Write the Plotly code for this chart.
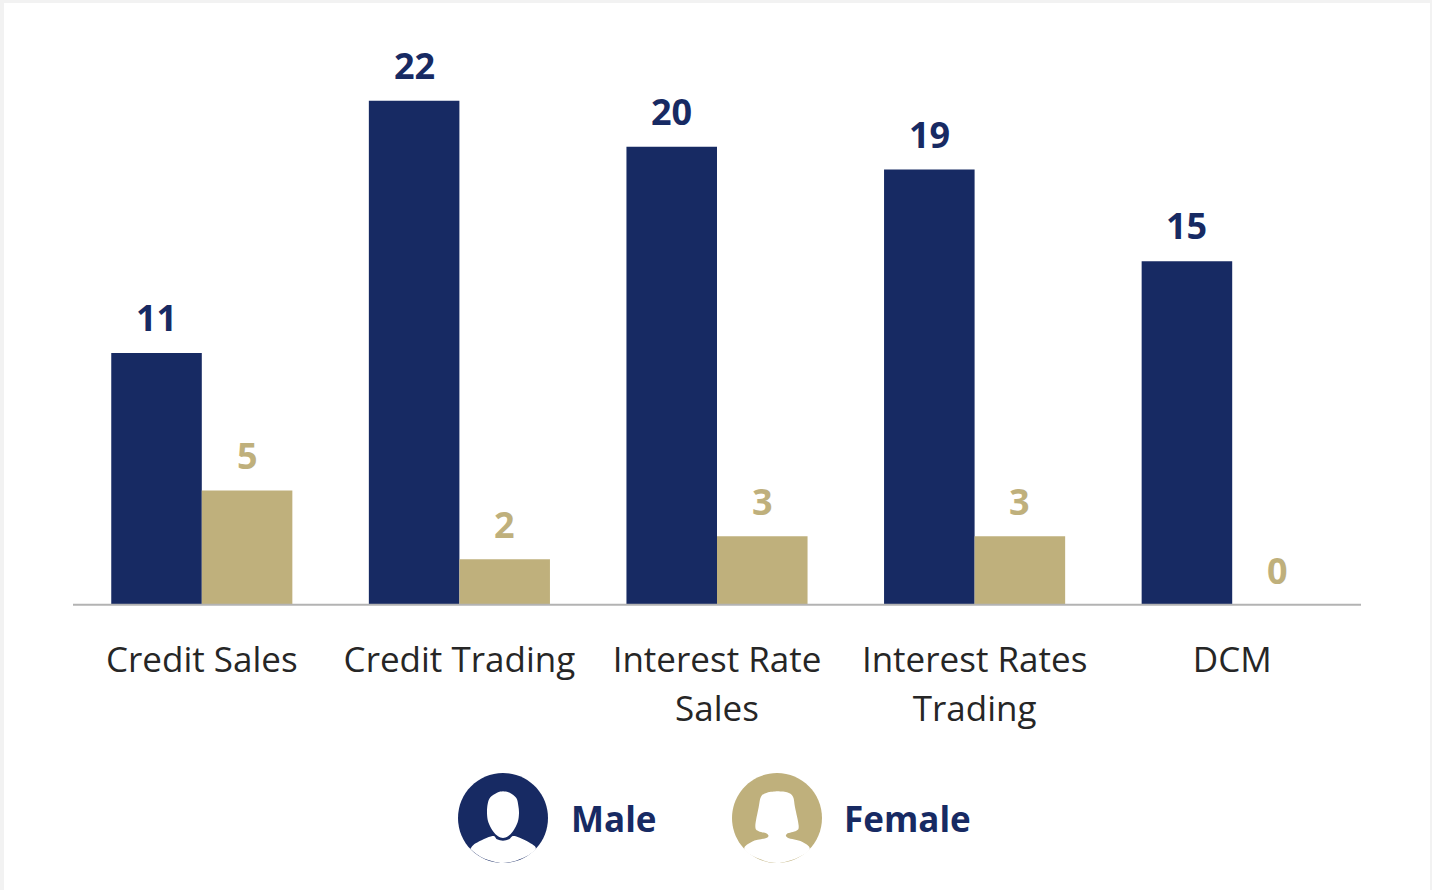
import plotly.graph_objects as go

categories = ["Credit Sales", "Credit Trading", "Interest Rate Sales", "Interest Rates Trading", "DCM"]
tick_lines = [["Credit Sales"], ["Credit Trading"], ["Interest Rate", "Sales"], ["Interest Rates", "Trading"], ["DCM"]]
male = [11, 22, 20, 19, 15]
female = [5, 2, 3, 3, 0]
NAVY = "#172a63"
GOLD = "#bfb07c"
W, H = 1432, 890
L, R, T, B = 73, 71, 55, 285
PW, PH = W - L - R, H - T - B


def px(x):
    return (x - L) / PW


def py(y):
    return (H - B - y) / PH


def path_from(points, cx, cy, ox, oy):
    """Smooth closed outline through points given in 3x crop pixels, returned in paper units."""
    pts = [(ox + (x - cx) / 3, oy + (y - cy) / 3) for x, y in points]
    s = f"M{px(pts[0][0]):.5f},{py(pts[0][1]):.5f}"
    n = len(pts)
    for i in range(n - 1):
        p0, p1, p2, p3 = pts[max(i - 1, 0)], pts[i], pts[i + 1], pts[min(i + 2, n - 1)]
        c1 = (p1[0] + (p2[0] - p0[0]) / 6, p1[1] + (p2[1] - p0[1]) / 6)
        c2 = (p2[0] - (p3[0] - p1[0]) / 6, p2[1] - (p3[1] - p1[1]) / 6)
        s += (f" C{px(c1[0]):.5f},{py(c1[1]):.5f} {px(c2[0]):.5f},{py(c2[1]):.5f}"
              f" {px(p2[0]):.5f},{py(p2[1]):.5f}")
    return s + " Z"


def circle_path(cx, cy, r):
    k = 0.5523 * r
    segs = [((cx - r, cy - k), (cx - k, cy - r), (cx, cy - r)),
            ((cx + k, cy - r), (cx + r, cy - k), (cx + r, cy)),
            ((cx + r, cy + k), (cx + k, cy + r), (cx, cy + r)),
            ((cx - k, cy + r), (cx - r, cy + k), (cx - r, cy))]
    s = f"M{px(cx - r):.5f},{py(cy):.5f}"
    for a, b, c in segs:
        s += f" C{px(a[0]):.5f},{py(a[1]):.5f} {px(b[0]):.5f},{py(b[1]):.5f} {px(c[0]):.5f},{py(c[1]):.5f}"
    return s + " Z"


male_head = [(190, 92), (210, 96), (230, 112), (236, 135), (238, 158), (234, 185), (220, 212), (205, 227),
             (190, 232), (175, 227), (160, 212), (146, 185), (142, 158), (144, 130), (152, 110), (172, 96), (190, 92)]
male_body = [(92, 265), (108, 248), (158, 226), (172, 236), (190, 240), (208, 236), (224, 226), (270, 246), (288, 265),
             (250, 292), (190, 307), (130, 292), (92, 265)]
female_shape = [(1010, 92), (1040, 95), (1058, 108), (1064, 140), (1075, 195), (1068, 210), (1040, 219), (1042, 231),
                (1085, 243), (1108, 265), (1070, 292), (1010, 307), (950, 292), (912, 265), (935, 243), (980, 231),
                (980, 219), (955, 212), (945, 197), (955, 140), (962, 108), (980, 96), (1010, 92)]


def shape(path, colour):
    return dict(type="path", xref="paper", yref="paper", path=path, fillcolor=colour, line=dict(width=0), layer="above")


fig = go.Figure()
fig.add_bar(name="Male", x=categories, y=male, marker=dict(color=NAVY, line=dict(width=0)), cliponaxis=False)
fig.add_bar(name="Female", x=categories, y=female, marker=dict(color=GOLD, line=dict(width=0)), cliponaxis=False)

shapes = [dict(type="rect", xref="paper", yref="paper", layer="below", line=dict(width=0), fillcolor="white",
               x0=px(4), x1=px(1430), y0=py(H), y1=py(3))]
shapes += [dict(type="line", xref="paper", yref="paper", x0=0, x1=1, y0=py(604.7), y1=py(604.7),
                line=dict(color="#b3b3b3", width=2), layer="above")]
shapes += [shape(circle_path(503, 818, 45), NAVY),
           shape(path_from(male_head, 190, 172, 503, 818), "white"),
           shape(path_from(male_body, 190, 172, 503, 818), "white"),
           shape(circle_path(777, 818, 45), GOLD),
           shape(path_from(female_shape, 1010, 172, 777, 818), "white")]

annotations = [
    dict(text="<b>Male</b>", x=px(569), y=py(818), xref="paper", yref="paper",
         xanchor="left", yanchor="middle", showarrow=False, font=dict(family="Open Sans", size=35, color=NAVY)),
    dict(text="<b>Female</b>", x=px(842), y=py(818), xref="paper", yref="paper",
         xanchor="left", yanchor="middle", showarrow=False, font=dict(family="Open Sans", size=35, color=NAVY)),
]
BAR_OFFSET = PW / len(categories) * (1 - 0.297) / 4
for values, colour, sign, lift in ((male, NAVY, -1, 9), (female, GOLD, 1, 8)):
    for cat, v in zip(categories, values):
        annotations.append(dict(x=cat, y=v, xref="x", yref="y", text=f"<b>{v}</b>", showarrow=False,
                                xanchor="center", yanchor="bottom", xshift=sign * BAR_OFFSET, yshift=lift,
                                font=dict(family="Open Sans", size=36, color=colour)))

ticktext = ["<br>".join(f'<span style="font-size:35px">{line}</span>' for line in lines) for lines in tick_lines]

fig.update_layout(
    width=W, height=H, margin=dict(l=L, r=R, t=T, b=B, pad=0, autoexpand=False),
    paper_bgcolor="#f2f2f2", plot_bgcolor="white", showlegend=False,
    barmode="group", bargap=0.297, bargroupgap=0,
    shapes=shapes, annotations=annotations,
    xaxis=dict(showline=False, ticks="", showgrid=False, zeroline=False,
               tickmode="array", tickvals=categories, ticktext=ticktext,
               tickfont=dict(family="Open Sans", size=38, color="#262626"), ticklabelstandoff=28,
               categoryorder="array", categoryarray=categories, tickangle=0, automargin=False),
    yaxis=dict(range=[0, 24], visible=False, fixedrange=True),
)
fig.write_html("out.html", config=dict(displayModeBar=False),
               post_script="document.body.style.margin='0';document.body.style.overflow='hidden';")
